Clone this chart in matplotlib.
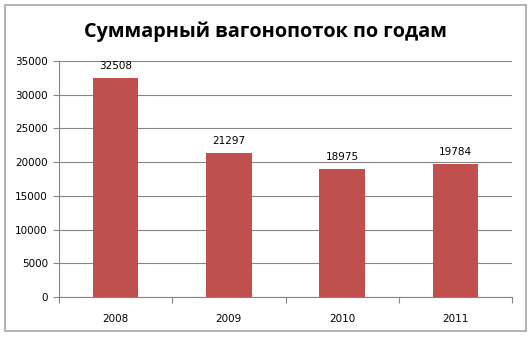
import matplotlib
matplotlib.use("Agg")
import matplotlib.pyplot as plt
from matplotlib.patches import Rectangle
import numpy as np

years = ["2008", "2009", "2010", "2011"]
values = [32508, 21297, 18975, 19784]
yticks = [0, 5000, 10000, 15000, 20000, 25000, 30000, 35000]
title = "Суммарный вагонопоток по годам"

W, H = 532, 337
fig = plt.figure(figsize=(W/100, H/100), dpi=100)
fig.patch.set_facecolor("white")

# outer frame
fig.patches.append(Rectangle((5/W, 1-331/H), 521/W, 326/H, transform=fig.transFigure,
                             fill=False, edgecolor="#a6a6a6", linewidth=1.2))

ax = fig.add_axes([59/W, 1-297/H, (512-59)/W, (297-61)/H])
x = np.arange(len(years))
ax.bar(x, values, width=0.4, color="#C0504D", zorder=3)
ax.set_xlim(-0.5, len(years)-0.5)
ax.set_ylim(0, 35000)
ax.set_yticks(yticks)
ax.set_yticklabels([str(t) for t in yticks], fontsize=7.5, color="#000000")
ax.yaxis.grid(True, color="#868686", linewidth=0.8, zorder=0)
ax.set_xticks(x)
ax.set_xticklabels(years, fontsize=7.5)
ax.tick_params(axis="x", length=0, pad=12)
ax.set_xticks(np.arange(-0.5, len(years), 1.0), minor=True)
ax.tick_params(axis="x", which="minor", length=4, color="#868686", width=0.8)
ax.tick_params(axis="y", length=4, color="#868686", width=0.8, pad=4)
for s in ["top", "right"]:
    ax.spines[s].set_visible(False)
for s in ["left", "bottom"]:
    ax.spines[s].set_color("#868686")
    ax.spines[s].set_linewidth(0.8)

for xi, v in zip(x, values):
    ax.annotate(str(v), (xi, v), xytext=(0, 5), textcoords="offset points",
                ha="center", va="bottom", fontsize=7.5)

fig.text(265/W, 1-32/H, title, ha="center", va="center", fontsize=14.3,
         fontweight="bold", family=["Open Sans", "DejaVu Sans"])

fig.savefig("out.png", dpi=100)
